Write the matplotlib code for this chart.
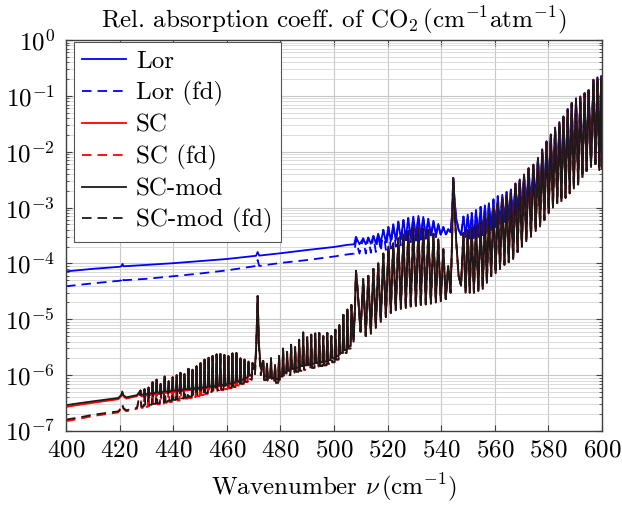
import numpy as np
import matplotlib
matplotlib.use("Agg")
import matplotlib.pyplot as plt
from matplotlib.ticker import LogLocator, NullFormatter, MultipleLocator, NullLocator

plt.rcParams['font.family'] = 'serif'
plt.rcParams['font.serif'] = ['cmr10']
plt.rcParams['mathtext.fontset'] = 'cm'
plt.rcParams['axes.formatter.use_mathtext'] = True

FS = 18

# ---- smooth part 400-427 (SC family) ----
nu_s1 = [400, 405, 410, 415, 419.5, 420.6, 421.0, 421.4, 422.5, 426.5]
scm_s1 = [2.9e-7, 3.15e-7, 3.4e-7, 3.65e-7, 3.9e-7, 4.4e-7, 5.1e-7, 4.4e-7, 4.0e-7, 4.4e-7]
sc_s1 = [2.7e-7, 2.95e-7, 3.2e-7, 3.45e-7, 3.7e-7, 4.2e-7, 4.9e-7, 4.2e-7, 3.8e-7, 4.2e-7]
fd_s1 = [1.6e-7, 1.75e-7, 1.95e-7, 2.1e-7, 2.25e-7, 2.6e-7, 3.0e-7, 2.6e-7, 2.35e-7, 2.6e-7]
scfd_s1 = [1.5e-7, 1.65e-7, 1.85e-7, 2.0e-7, 2.15e-7, 2.5e-7, 2.9e-7, 2.5e-7, 2.25e-7, 2.5e-7]

# ---- lines 427-470 ----
nu_l1 = [427.8, 429.3, 430.8, 432.3, 433.8, 435.3, 436.8, 438.3, 439.8, 441.3,
         442.7, 444.2, 445.7, 447.2, 448.7, 450.2, 451.7, 453.2, 454.7, 456.2,
         457.6, 459.1, 460.6, 462.1, 463.6, 465.1, 466.6, 468.1, 469.6]
pk_l1 = [5.3e-7, 5.6e-7, 6.0e-7, 7.5e-7, 8.3e-7, 7.0e-7, 9.5e-7, 7.8e-7, 9.2e-7, 1.0e-6,
         1.1e-6, 1.05e-6, 1.3e-6, 1.25e-6, 1.45e-6, 1.65e-6, 1.9e-6, 2.05e-6, 2.2e-6, 2.35e-6,
         2.4e-6, 2.3e-6, 2.2e-6, 2.45e-6, 2.5e-6, 2.0e-6, 1.9e-6, 1.75e-6, 1.65e-6]
scm_tr1 = [4.5e-7, 4.6e-7, 4.7e-7, 4.8e-7, 4.9e-7, 5.0e-7, 5.1e-7, 5.2e-7, 5.3e-7, 5.4e-7,
           5.5e-7, 5.6e-7, 5.7e-7, 5.8e-7, 5.9e-7, 6.0e-7, 6.1e-7, 6.3e-7, 6.4e-7, 6.6e-7,
           6.7e-7, 6.9e-7, 7.1e-7, 7.4e-7, 7.8e-7, 8.3e-7, 9.0e-7, 1.0e-6]
sc_tr1 = [4.2e-7, 4.3e-7, 4.4e-7, 4.5e-7, 4.6e-7, 4.7e-7, 4.8e-7, 4.9e-7, 5.0e-7, 5.1e-7,
          5.2e-7, 5.3e-7, 5.4e-7, 5.5e-7, 5.6e-7, 5.7e-7, 5.8e-7, 6.0e-7, 6.1e-7, 6.3e-7,
          6.4e-7, 6.6e-7, 6.8e-7, 7.1e-7, 7.5e-7, 8.0e-7, 8.7e-7, 9.7e-7]
fd_tr1 = [2.75e-7, 2.85e-7, 2.95e-7, 3.05e-7, 3.15e-7, 3.25e-7, 3.35e-7, 3.5e-7, 3.6e-7, 3.7e-7,
          3.85e-7, 4.0e-7, 4.1e-7, 4.25e-7, 4.4e-7, 4.6e-7, 4.8e-7, 5.0e-7, 5.2e-7, 5.4e-7,
          5.6e-7, 5.8e-7, 6.0e-7, 6.3e-7, 6.7e-7, 7.1e-7, 7.7e-7, 8.5e-7]
scfd_tr1 = [2.6e-7, 2.7e-7, 2.8e-7, 2.9e-7, 3.0e-7, 3.1e-7, 3.2e-7, 3.3e-7, 3.4e-7, 3.5e-7,
            3.65e-7, 3.8e-7, 3.9e-7, 4.05e-7, 4.2e-7, 4.4e-7, 4.6e-7, 4.8e-7, 5.0e-7, 5.2e-7,
            5.4e-7, 5.6e-7, 5.8e-7, 6.1e-7, 6.5e-7, 6.9e-7, 7.5e-7, 8.2e-7]

# ---- spike at 471.5 ----
nu_k2 = [470.5, 471.0, 471.5, 472.0, 472.7]
scm_k2 = [1.3e-6, 3.5e-6, 2.6e-5, 3.5e-6, 1.3e-6]
fd_k2 = [1.0e-6, 3.0e-6, 2.6e-5, 3.0e-6, 1.0e-6]

# ---- lines 473-507 ----
nu_l2 = [473.6, 475.0, 476.5, 478.0, 479.5, 481.0, 482.5, 484.0, 485.5, 487.0, 488.5, 490.0,
         491.5, 493.0, 494.5, 496.0, 497.5, 499.0, 500.5, 502.0, 503.5, 505.0, 506.5]
pk_l2 = [1.8e-6, 1.6e-6, 2.0e-6, 1.5e-6, 2.2e-6, 3.0e-6, 2.6e-6, 3.5e-6, 3.2e-6, 4.3e-6, 5.8e-6, 4.8e-6,
         5.3e-6, 5.6e-6, 5.7e-6, 5.0e-6, 5.7e-6, 5.0e-6, 6.5e-6, 7.9e-6, 1.2e-5, 1.5e-5, 1.8e-5]
scm_tr2 = [9.5e-7, 9.0e-7, 8.8e-7, 8.5e-7, 9.5e-7, 1.1e-6, 1.2e-6, 1.3e-6, 1.35e-6, 1.45e-6, 1.5e-6,
           1.55e-6, 1.6e-6, 1.65e-6, 1.7e-6, 1.75e-6, 1.85e-6, 2.0e-6, 2.2e-6, 2.5e-6, 2.8e-6, 3.3e-6]
fd_tr2 = [8.2e-7, 7.8e-7, 7.5e-7, 7.3e-7, 8.0e-7, 9.3e-7, 1.0e-6, 1.1e-6, 1.15e-6, 1.2e-6, 1.25e-6,
          1.3e-6, 1.35e-6, 1.4e-6, 1.45e-6, 1.5e-6, 1.6e-6, 1.7e-6, 1.9e-6, 2.2e-6, 2.5e-6, 3.0e-6]

# ---- spike at 508.2 ----
nu_k3 = [507.3, 507.8, 508.2, 508.7, 509.2, 509.9]
scm_k3 = [4.0e-6, 1.5e-5, 7.4e-5, 4.0e-5, 1.8e-5, 6.0e-6]

# ---- lines 510-543 ----
nu_l3 = [510.9, 512.8, 514.7, 516.5, 518.4, 520.3, 522.1, 524.0, 525.9,
         527.7, 529.6, 531.5, 533.3, 535.2, 537.1, 538.9, 540.8, 542.6]
pk_l3 = [5.3e-5, 6.0e-5, 8.0e-5, 1.0e-4, 1.5e-4, 2.0e-4, 2.3e-4, 2.8e-4, 3.3e-4,
         3.8e-4, 4.4e-4, 4.4e-4, 4.2e-4, 4.0e-4, 3.4e-4, 2.7e-4, 1.8e-4, 9.0e-5]
scm_tr3 = [5.0e-6, 5.5e-6, 7.0e-6, 9.0e-6, 1.1e-5, 1.3e-5, 1.45e-5, 1.55e-5, 1.6e-5,
           1.7e-5, 1.75e-5, 1.8e-5, 1.85e-5, 1.9e-5, 2.0e-5, 2.1e-5, 2.3e-5]
lor_pk3 = [2.8e-4, 2.9e-4, 3.1e-4, 3.4e-4, 4.0e-4, 4.5e-4, 5.0e-4, 5.6e-4, 6.0e-4,
           6.5e-4, 6.9e-4, 7.1e-4, 6.8e-4, 6.3e-4, 5.8e-4, 5.1e-4, 4.5e-4, 4.1e-4]
lor_tr3 = [2.2e-4, 2.25e-4, 2.3e-4, 2.35e-4, 2.4e-4, 2.5e-4, 2.6e-4, 2.7e-4, 2.8e-4,
           2.9e-4, 3.0e-4, 3.05e-4, 3.1e-4, 3.15e-4, 3.2e-4, 3.25e-4, 3.3e-4]
lorfd_tr3 = [1.5e-4, 1.55e-4, 1.6e-4, 1.65e-4, 1.75e-4, 1.85e-4, 2.0e-4, 2.1e-4, 2.25e-4,
             2.4e-4, 2.55e-4, 2.65e-4, 2.75e-4, 2.85e-4, 2.95e-4, 3.05e-4, 3.15e-4]

# ---- spike at 544.5 ----
nu_k4 = [543.5, 544.0, 544.5, 545.0, 545.6, 546.5, 547.4]
scm_k4 = [3.0e-5, 2.0e-4, 3.3e-3, 1.0e-3, 2.5e-4, 6.0e-5, 4.0e-5]
lor_k4 = [3.6e-4, 7.0e-4, 3.4e-3, 1.3e-3, 6.5e-4, 4.0e-4, 3.2e-4]

# ---- lines 548-600 ----
nu_l4 = [548.3, 549.9, 551.4, 553.0, 554.7, 556.3, 557.8, 559.5, 561.1, 562.8, 564.4,
         566.0, 567.7, 569.3, 570.9, 572.6, 574.4, 576.1, 577.7, 579.3, 580.9, 582.5,
         584.1, 585.6, 587.2, 588.7, 590.3, 591.9, 593.5, 595.0, 596.8, 598.3, 599.7]
pk_l4 = [3.5e-4, 4.0e-4, 4.3e-4, 4.9e-4, 5.6e-4, 6.9e-4, 7.9e-4, 9.8e-4, 1.2e-3, 1.4e-3, 1.7e-3,
         1.9e-3, 2.6e-3, 3.1e-3, 3.8e-3, 5.0e-3, 5.8e-3, 7.6e-3, 1.07e-2, 1.5e-2, 2.0e-2, 2.6e-2,
         3.3e-2, 4.2e-2, 5.6e-2, 7.3e-2, 8.8e-2, 9.6e-2, 1.1e-1, 1.25e-1, 1.9e-1, 2.1e-1, 2.2e-1]
scm_tr4 = [3.0e-5, 3.0e-5, 3.0e-5, 3.2e-5, 3.5e-5, 4.5e-5, 5.9e-5, 6.7e-5, 8.0e-5, 9.5e-5, 1.05e-4,
           1.2e-4, 1.6e-4, 2.0e-4, 2.5e-4, 3.0e-4, 3.8e-4, 4.6e-4, 6.0e-4, 7.9e-4, 1.0e-3, 1.2e-3,
           1.3e-3, 1.5e-3, 1.8e-3, 2.2e-3, 2.6e-3, 3.5e-3, 4.5e-3, 5.4e-3, 6.0e-3, 4.7e-3]
lor_pk4 = [6.9e-4, 7.5e-4, 8.0e-4, 9.0e-4, 1.03e-3, 1.1e-3, 1.2e-3, 1.4e-3, 1.6e-3, 1.7e-3, 1.9e-3,
           2.1e-3, 2.7e-3, 3.2e-3, 3.9e-3, 5.1e-3, 5.9e-3, 7.8e-3, 1.1e-2, 1.55e-2, 2.05e-2, 2.7e-2,
           3.4e-2, 4.3e-2, 5.8e-2, 7.5e-2, 9.0e-2, 9.8e-2, 1.12e-1, 1.28e-1, 1.95e-1, 2.15e-1, 2.25e-1]
lor_tr4 = [3.0e-4, 2.8e-4, 2.8e-4, 3.0e-4, 3.2e-4, 3.5e-4, 4.0e-4, 4.5e-4, 5.0e-4, 5.5e-4, 6.0e-4,
           6.5e-4, 7.5e-4, 8.5e-4, 1.0e-3, 1.15e-3, 1.3e-3, 1.5e-3, 1.7e-3, 2.0e-3, 2.3e-3, 2.6e-3,
           3.0e-3, 3.4e-3, 3.8e-3, 4.2e-3, 4.6e-3, 5.0e-3, 5.5e-3, 6.0e-3, 6.5e-3, 5.5e-3]
nu_end = [600.0]
scm_end = [5.0e-3]
lor_end = [5.5e-3]

# ---- Lorentz smooth part 400-509 ----
nu_lor = [400, 410, 420, 420.7, 421.1, 421.5, 430, 440, 450, 460, 470.9, 471.5, 472.1,
          480, 490, 500, 505, 507.5, 508.2, 509.5]
lor_s = [7.2e-5, 8.0e-5, 8.7e-5, 8.9e-5, 9.8e-5, 8.9e-5, 9.4e-5, 1.01e-4, 1.1e-4, 1.2e-4,
         1.37e-4, 1.6e-4, 1.38e-4, 1.52e-4, 1.74e-4, 1.97e-4, 2.15e-4, 2.2e-4, 3.0e-4, 2.2e-4]
lorfd_s = [3.9e-5, 4.4e-5, 4.9e-5, 5.0e-5, 5.8e-5, 5.0e-5, 5.3e-5, 5.9e-5, 6.6e-5, 7.5e-5,
           9.0e-5, 1.15e-4, 9.0e-5, 1.02e-4, 1.15e-4, 1.33e-4, 1.45e-4, 1.5e-4, 2.6e-4, 1.5e-4]

LINE_W = 0.3  # half width of the narrow lines below 508


def zigzag(centres, peaks, troughs, w=None):
    c = np.asarray(centres, float)
    if w is None:
        x = np.empty(2 * len(c) - 1)
        y = np.empty_like(x)
        x[0::2], y[0::2] = c, peaks
        x[1::2], y[1::2] = (c[:-1] + c[1:]) / 2, troughs
        return x, y
    x, y = [], []
    for i, ci in enumerate(c):
        if i > 0:
            x.append(ci - w)
            y.append(troughs[i - 1])
        x.append(ci)
        y.append(peaks[i])
        if i < len(c) - 1:
            x.append(ci + w)
            y.append(troughs[i])
    return np.array(x), np.array(y)


def join(*parts):
    x = np.concatenate([np.asarray(p[0], float) for p in parts])
    y = np.concatenate([np.asarray(p[1], float) for p in parts])
    return x, y


tail_sc = [(nu_k3, scm_k3), zigzag(nu_l3, pk_l3, scm_tr3), (nu_k4, scm_k4),
           zigzag(nu_l4, pk_l4, scm_tr4), (nu_end, scm_end)]
tail_lor = [(nu_k4, lor_k4), zigzag(nu_l4, lor_pk4, lor_tr4), (nu_end, lor_end)]

curves = {
    'Lor': join((nu_lor, lor_s), zigzag(nu_l3, lor_pk3, lor_tr3), *tail_lor),
    'Lor (fd)': join((nu_lor, lorfd_s), zigzag(nu_l3, lor_pk3, lorfd_tr3), *tail_lor),
    'SC': join((nu_s1, sc_s1), zigzag(nu_l1, pk_l1, sc_tr1, LINE_W), (nu_k2, scm_k2),
               zigzag(nu_l2, pk_l2, scm_tr2, LINE_W), *tail_sc),
    'SC (fd)': join((nu_s1, scfd_s1), zigzag(nu_l1, pk_l1, scfd_tr1, LINE_W), (nu_k2, fd_k2),
                    zigzag(nu_l2, pk_l2, fd_tr2, LINE_W), *tail_sc),
    'SC-mod': join((nu_s1, scm_s1), zigzag(nu_l1, pk_l1, scm_tr1, LINE_W), (nu_k2, scm_k2),
                   zigzag(nu_l2, pk_l2, scm_tr2, LINE_W), *tail_sc),
    'SC-mod (fd)': join((nu_s1, fd_s1), zigzag(nu_l1, pk_l1, fd_tr1, LINE_W), (nu_k2, fd_k2),
                        zigzag(nu_l2, pk_l2, fd_tr2, LINE_W), *tail_sc),
}
styles = {
    'Lor': ('#0000ff', '-'), 'Lor (fd)': ('#0000ff', '--'),
    'SC': ('#ff0000', '-'), 'SC (fd)': ('#ff0000', '--'),
    'SC-mod': ('#1a1a1a', '-'), 'SC-mod (fd)': ('#1a1a1a', '--'),
}

fig = plt.figure(figsize=(6.22, 5.05), dpi=100)
ax = fig.add_axes([66 / 622, 74 / 505, 536 / 622, 391 / 505])

for name, (x, y) in curves.items():
    col, ls = styles[name]
    kw = dict(dashes=(5.3, 3.3)) if ls == '--' else {}
    ax.plot(x, y, color=col, lw=1.3, label=name, **kw)

ax.set_yscale('log')
ax.set_xlim(400, 600)
ax.set_ylim(1e-7, 1)
ax.xaxis.set_major_locator(MultipleLocator(20))
ax.xaxis.set_minor_locator(NullLocator())
ax.yaxis.set_major_locator(LogLocator(base=10, numticks=10))
ax.yaxis.set_minor_locator(LogLocator(base=10, subs=np.arange(2, 10), numticks=20))
ax.yaxis.set_minor_formatter(NullFormatter())

ax.grid(which='major', color='#c8c8c8', lw=0.8)
ax.grid(which='minor', axis='y', color='#d6d6d6', lw=0.6)
ax.set_axisbelow(True)
for s in ax.spines.values():
    s.set_color('#404040')
    s.set_linewidth(1.0)
ax.tick_params(which='both', direction='in', top=True, right=True, color='#404040')
ax.tick_params(which='major', length=4, width=0.8, labelsize=FS)
ax.tick_params(axis='x', which='major', pad=6)
ax.tick_params(axis='y', which='major', pad=8)
ax.tick_params(which='minor', length=2.5, width=0.6)

ax.set_title(r'Rel. absorption coeff. of CO$_2\,(\mathrm{cm}^{-1}\mathrm{atm}^{-1})$', fontsize=FS, pad=9)
ax.set_xlabel(r'Wavenumber $\nu\,(\mathrm{cm}^{-1})$', fontsize=FS, labelpad=7)

leg = ax.legend(loc='upper left', bbox_to_anchor=(0.014, 0.995), borderaxespad=0,
                fontsize=FS, fancybox=False, framealpha=1, edgecolor='#555555',
                handlelength=1.75, handletextpad=0.4, labelspacing=0.32, borderpad=0.35)
leg.get_frame().set_linewidth(0.8)

fig.savefig('out.png', dpi=100)
